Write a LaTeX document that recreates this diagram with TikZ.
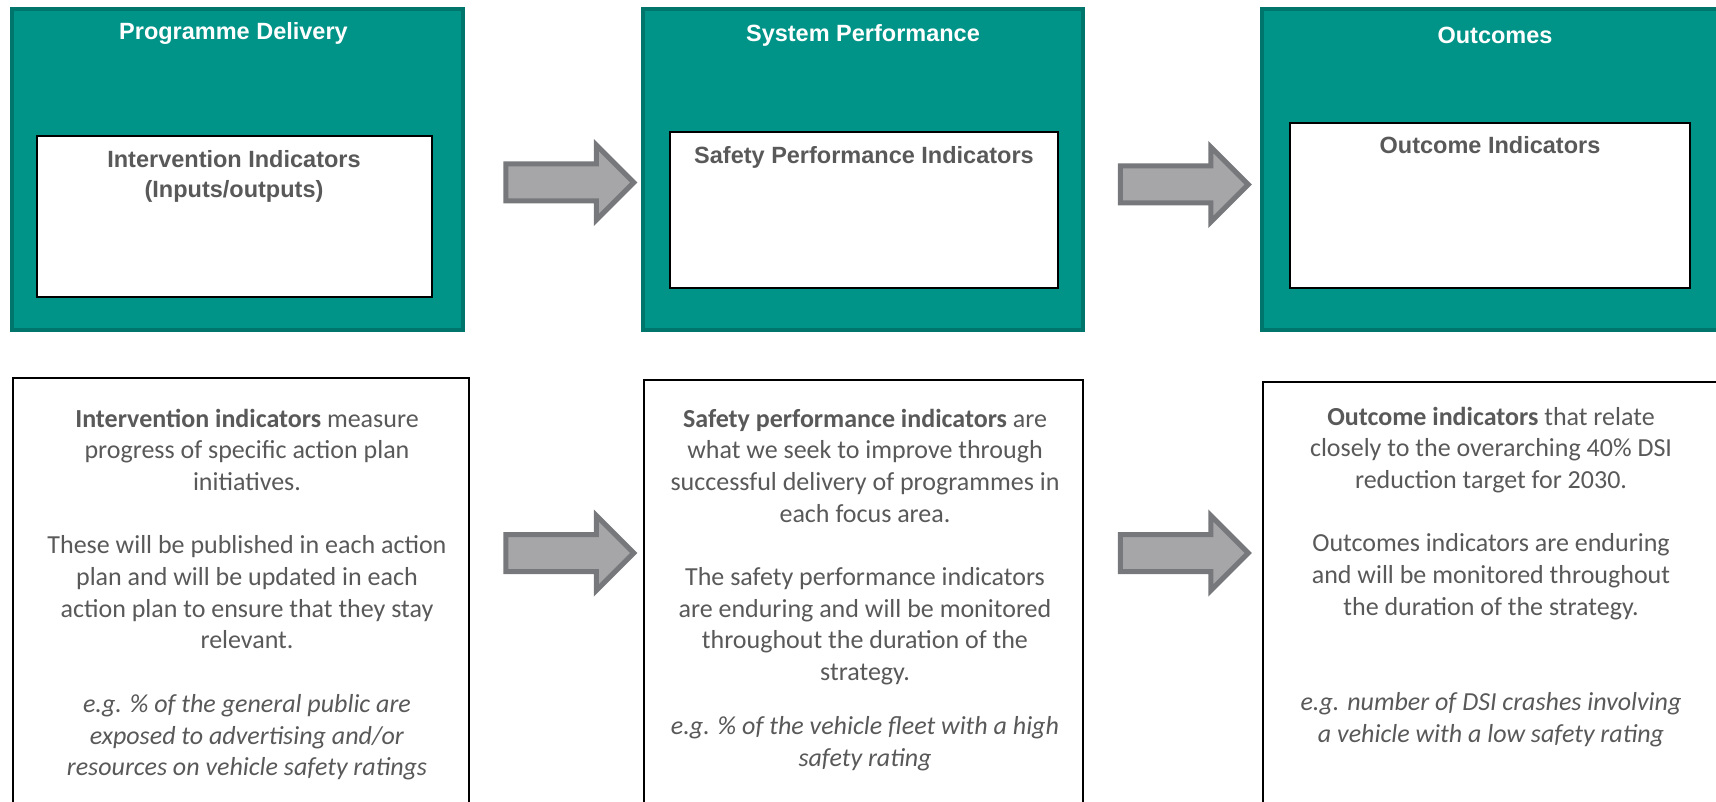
\documentclass[tikz,border=0pt]{standalone}
\usepackage{fontspec}
\setmainfont{Carlito}
\newfontfamily\headfont{Liberation Sans}
\usetikzlibrary{positioning,shapes.arrows}
\definecolor{tealfill}{HTML}{009488}
\definecolor{tealline}{HTML}{00756B}
\definecolor{arrowfill}{HTML}{A6A6A8}
\definecolor{arrowline}{HTML}{77787B}
\definecolor{textgrey}{HTML}{595959}
\newcommand{\bodysize}{\fontsize{26}{31.7}\selectfont}
\newcommand{\headsize}{\headfont\bfseries\fontsize{23.5}{30}\selectfont}
\newcommand{\gap}{31.7pt}

\begin{document}
\begin{tikzpicture}[x=1pt,y=-1pt,
    panel/.style={draw=tealline, fill=tealfill, line width=4pt, rectangle, minimum height=321pt, inner sep=0pt},
    inbox/.style={draw=black, fill=white, line width=2pt, rectangle, inner sep=0pt},
    note/.style={draw=black, fill=white, line width=2pt, rectangle, anchor=north west, minimum height=450pt, inner sep=0pt},
    title/.style={text=white, font=\headsize, anchor=base, inner sep=0pt},
    subtitle/.style={text=textgrey, font=\headsize, align=center, anchor=base, inner sep=0pt},
    body/.style={text=textgrey, font=\bodysize, align=center, anchor=base, inner sep=0pt},
    blockarrow/.style={single arrow, draw=arrowline, fill=arrowfill, line width=5pt, minimum height=128pt, inner xsep=0pt, inner ysep=16pt, single arrow head extend=19pt, single arrow head indent=0pt}]
    \useasboundingbox (0,0) rectangle (1716,802);

    % Top row
    \node[panel, minimum width=451pt] (box-1) at (237.5,169.5) {};
    \node[panel, minimum width=440pt] (box-2) at (863,169.5) {};
    \node[panel, minimum width=470pt] (box-3) at (1497,169.5) {};

    \node[title] (title-1) at (233.5,40) {Programme Delivery};
    \node[title] (title-2) at (863,41.5) {System Performance};
    \node[title] (title-3) at (1495,44) {Outcomes};

    \node[inbox, minimum width=395pt, minimum height=161pt] (inner-1) at (234.5,216.5) {};
    \node[inbox, minimum width=388pt, minimum height=156pt] (inner-2) at (864,210) {};
    \node[inbox, minimum width=400pt, minimum height=165pt] (inner-3) at (1490,205.5) {};

    \node[subtitle] (sub-1) at (234,198) {Intervention Indicators\\(Inputs/outputs)};
    \node[subtitle] (sub-2) at (864,164) {Safety Performance Indicators};
    \node[subtitle] (sub-3) at (1490,154) {Outcome Indicators};

    \node[blockarrow] (arrow-1-1) at (560.5,182.5) {};
    \node[blockarrow] (arrow-1-2) at (1175,184.5) {};

    % Bottom row
    \node[note, minimum width=456pt] (note-1) at (12,377) {};
    \node[note, minimum width=439pt] (note-2) at (643,379) {};
    \node[note, minimum width=470pt] (note-3) at (1262,381) {};

    \node[body] (text-1) at (247,775.7) {\textbf{Intervention indicators} measure\\progress of specific action plan\\initiatives.\\[\gap]
        These will be published in each action\\plan and will be updated in each\\action plan to ensure that they stay\\relevant.\\[\gap]
        \textit{e.g. \% of the general public are}\\\textit{exposed to advertising and/or}\\\textit{resources on vehicle safety ratings}};
    \node[body] (text-2) at (865,766) {\textbf{Safety performance indicators} are\\what we seek to improve through\\successful delivery of programmes in\\each focus area.\\[\gap]
        The safety performance indicators\\are enduring and will be monitored\\throughout the duration of the\\strategy.\\[22pt]
        \textit{e.g. \% of the vehicle fleet with a high}\\\textit{safety rating}};
    \node[body] (text-3) at (1491,742) {\textbf{Outcome indicators} that relate\\closely to the overarching 40\% DSI\\reduction target for 2030.\\[\gap]
        Outcomes indicators are enduring\\and will be monitored throughout\\the duration of the strategy.\\[63.4pt]
        \textit{e.g. number of DSI crashes involving}\\\textit{a vehicle with a low safety rating}};

    \node[blockarrow] (arrow-2-1) at (560.5,553) {};
    \node[blockarrow] (arrow-2-2) at (1175,553) {};

\end{tikzpicture}
\end{document}
